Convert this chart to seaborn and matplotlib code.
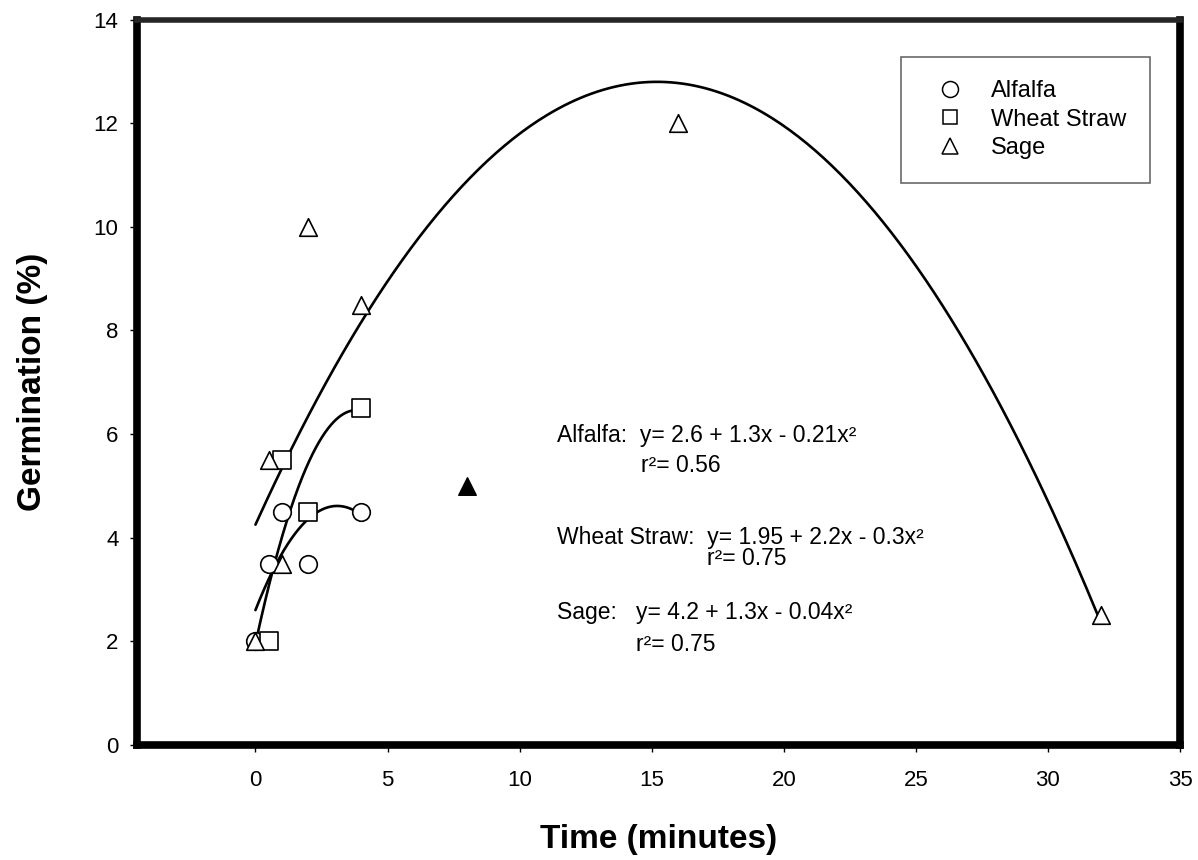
import numpy as np
import pandas as pd
import matplotlib
matplotlib.use("Agg")
import matplotlib.pyplot as plt
from matplotlib.lines import Line2D
import seaborn as sns

# ---- data ----
alfalfa_x = [0, 0.5, 1, 2, 4]
alfalfa_y = [2.0, 3.5, 4.5, 3.5, 4.5]
wheat_x = [0.5, 1, 2, 4]
wheat_y = [2.0, 5.5, 4.5, 6.5]
sage_x = [0, 0.5, 1, 2, 4, 16, 32]
sage_y = [2.0, 5.5, 3.5, 10.0, 8.5, 12.0, 2.5]
sage_filled_x = [8]
sage_filled_y = [5.0]

# fitted curve coefficients (constant, linear, quadratic) as drawn
alfalfa_coef = [2.6, 1.3, -0.21]
wheat_coef = [1.95, 2.365, -0.31]
sage_coef = [4.25, 1.125, -0.037]
alfalfa_range = [0, 4]
wheat_range = [0, 4]
sage_range = [0, 32]

x_ticks = [0, 5, 10, 15, 20, 25, 30, 35]
y_ticks = [0, 2, 4, 6, 8, 10, 12, 14]

eq_texts = [
    ("Alfalfa:  y= 2.6 + 1.3x - 0.21x²", "r²= 0.56"),
    ("Wheat Straw:  y= 1.95 + 2.2x - 0.3x²", "r²= 0.75"),
    ("Sage:   y= 4.2 + 1.3x - 0.04x²", "r²= 0.75"),
]

sns.set_style("ticks")
plt.rcParams["font.family"] = ["Liberation Sans", "DejaVu Sans"]
plt.rcParams["text.color"] = "black"
plt.rcParams["axes.labelcolor"] = "black"

fig = plt.figure(figsize=(11.98, 8.60), dpi=100)
ax = fig.add_axes([0.114, 0.134, 0.871, 0.843])

# curves
for coef, rng in [(alfalfa_coef, alfalfa_range), (wheat_coef, wheat_range), (sage_coef, sage_range)]:
    xs = np.linspace(rng[0], rng[1], 300)
    ys = coef[0] + coef[1] * xs + coef[2] * xs ** 2
    sns.lineplot(x=xs, y=ys, ax=ax, color="black", linewidth=1.9, zorder=2)

# points
mk_kw = dict(s=160, facecolor="white", edgecolor="black", linewidth=1.2, zorder=3, ax=ax)
sns.scatterplot(x=alfalfa_x, y=alfalfa_y, marker="o", **mk_kw)
sns.scatterplot(x=wheat_x, y=wheat_y, marker="s", **mk_kw)
sns.scatterplot(x=sage_x, y=sage_y, marker="^", **mk_kw)
sns.scatterplot(x=sage_filled_x, y=sage_filled_y, marker="^", s=160, color="black",
                edgecolor="black", zorder=3, ax=ax)

ax.set_xlim(-4.5, 35)
ax.set_ylim(0, 14)
ax.set_xticks(x_ticks)
ax.set_yticks(y_ticks)
ax.tick_params(axis="both", direction="out", length=5, width=1, labelsize=16,
               colors="black")
ax.tick_params(axis="x", pad=13)
ax.tick_params(axis="y", pad=8)
for side in ["left", "bottom", "right"]:
    ax.spines[side].set_linewidth(5.5)
    ax.spines[side].set_color("black")
ax.spines["top"].set_linewidth(4)
ax.spines["top"].set_visible(True)
ax.spines["right"].set_visible(True)
ax.tick_params(top=False, right=False)

ax.set_xlabel("Time (minutes)", fontsize=24, fontweight="bold", labelpad=24)
ax.set_ylabel("Germination (%)", fontsize=24, fontweight="bold", labelpad=33)

# equations
eq_pos = [(11.4, 5.98, 14.6, 5.40), (11.4, 4.0, 17.1, 3.6), (11.4, 2.56, 14.4, 1.94)]
for (eq, r2), (x1, y1, x2, y2) in zip(eq_texts, eq_pos):
    ax.text(x1, y1, eq, fontsize=16.5, va="center", ha="left")
    ax.text(x2, y2, r2, fontsize=16.5, va="center", ha="left")

handles = [
    Line2D([], [], marker="o", linestyle="none", markerfacecolor="white",
           markeredgecolor="black", markersize=11.5, markeredgewidth=1.1),
    Line2D([], [], marker="s", linestyle="none", markerfacecolor="white",
           markeredgecolor="black", markersize=10.5, markeredgewidth=1.1),
    Line2D([], [], marker="^", linestyle="none", markerfacecolor="white",
           markeredgecolor="black", markersize=11.5, markeredgewidth=1.1),
]
leg = ax.legend(handles, ["Alfalfa", "Wheat Straw", "Sage"], loc="upper right",
                bbox_to_anchor=(0.971, 0.949), fontsize=17, frameon=True,
                fancybox=False, edgecolor="#444444", borderpad=1.0,
                handletextpad=0.7, labelspacing=0.27, borderaxespad=0,
                handlelength=2.1)
leg.get_frame().set_linewidth(1.2)

fig.savefig("out.png", dpi=100, facecolor="white")
